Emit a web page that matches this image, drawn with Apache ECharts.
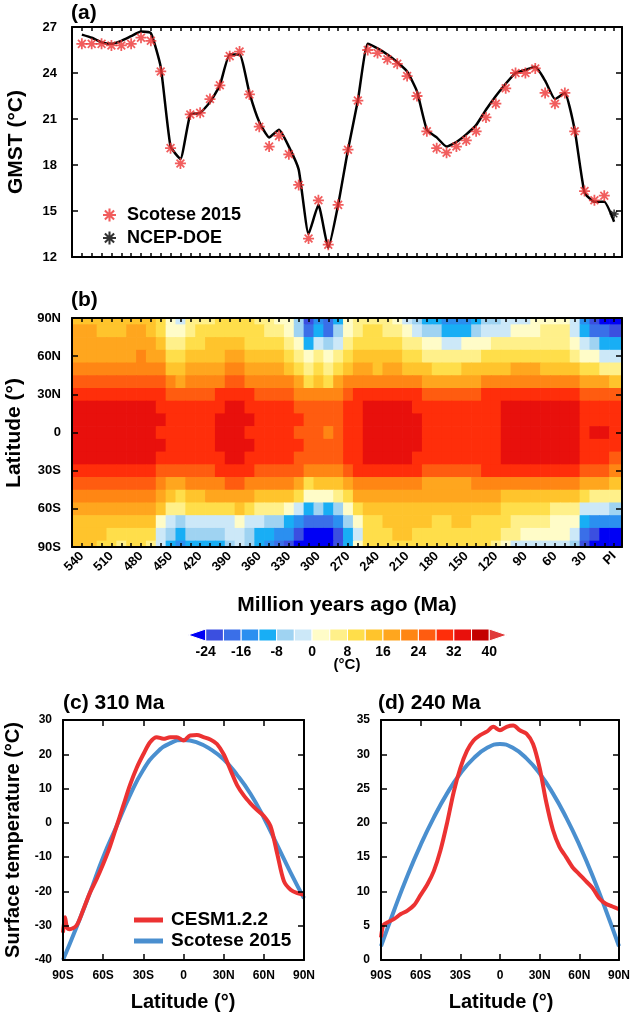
<!DOCTYPE html>
<html>
<head>
<meta charset="utf-8">
<title>GMST and zonal-mean surface temperature</title>
<script src="https://cdn.jsdelivr.net/npm/echarts@6/dist/echarts.min.js"></script>
<style>
  html, body { margin: 0; padding: 0; background: #fff; }
  #chart { width: 633px; height: 1012px; }
</style>
</head>
<body>
<div id="chart"></div>
<script>
// ---- panel (a): global mean surface temperature ----
const ages = [540, 530, 520, 510, 500, 490, 480, 470, 460, 450, 440, 430, 420, 410, 400, 390, 380, 370, 360, 350,
  340, 330, 320, 310, 300, 290, 280, 270, 260, 250, 240, 230, 220, 210, 200, 190, 180, 170, 160, 150,
  140, 130, 120, 110, 100, 90, 80, 70, 60, 50, 40, 30, 20, 10, 0];
const gmstCesm = [26.5, 26.3, 26.0, 25.9, 26.1, 26.4, 26.7, 26.6, 24.4, 19.2, 18.4, 21.3, 21.4, 22.1, 23.2, 25.2, 25.2, 22.7, 20.8, 19.8,
  20.3, 19.2, 17.7, 13.5, 15.4, 12.6, 15.4, 19.0, 22.2, 25.9, 25.6, 25.2, 24.7, 24.1, 22.8, 20.3, 19.8, 19.2, 19.5, 20.0,
  20.6, 21.6, 22.5, 23.3, 24.0, 24.2, 24.4, 23.5, 22.3, 22.7, 20.3, 16.2, 15.6, 15.6, 14.3];
// Scotese 2015 stars, 540 ... 10 Ma
const gmstScotese = [25.9, 25.9, 25.9, 25.8, 25.8, 25.9, 26.3, 26.1, 24.1, 19.1, 18.1, 21.3, 21.4, 22.3, 23.2, 25.1, 25.4, 22.6, 20.5, 19.2,
  19.9, 18.7, 16.7, 13.2, 15.7, 12.8, 15.4, 19.0, 22.2, 25.5, 25.3, 24.9, 24.6, 23.8, 22.5, 20.2, 19.1, 18.8, 19.2, 19.6,
  20.2, 21.1, 22.0, 23.0, 24.0, 24.0, 24.3, 22.7, 22.0, 22.7, 20.2, 16.3, 15.7, 16.0];
const ncepAge = [0];
const ncepGmst = [14.8];
const ageLabels = [540, 510, 480, 450, 420, 390, 360, 330, 300, 270, 240, 210, 180, 150, 120, 90, 60, 30, 0];

// ---- panel (b): zonal mean temperature, rows 90N -> 90S, columns 540 -> 0 Ma ----
const gridLats = [90, 80, 70, 60, 50, 40, 30, 20, 10, 0, -10, -20, -30, -40, -50, -60, -70, -80, -90];
const zonalTemp = [
  [15,15,14,14,14, 15,15,13,8,0, -1,4,6,7,8, 10,10,8,6,5, 3,0,-8,-21,-14, -20,-10,0,4,7, 7.5,5,3,-1,-5, -9,-12,-14,-14,-13, -10,-7,-5,-4,-3, -2,0,2,3,3, -3,-14,-22,-25,-27],
  [16,16,15,15,15, 16,16,14,10,3, 2,6,8,9,10, 11,11,9,8,7, 5,2,-5,-19,-10, -17,-7,2,6,8, 8.5,7,5,2,-1, -5,-8,-10,-10,-9, -7,-4,-2,-1,0, 1,2,4,4,4, -1,-10,-17,-20,-22],
  [17,17,17,17,17, 17,18,16,13,7, 6,9,11,12,12, 13,13,11,10,9, 8,6,1,-9,-3, -8,-1,6,10,11, 10.5,10,9,7,5, 2,0,-1,-1,0, 1,3,4,5,6, 6,7,7,6,7, 3,-4,-8,-10,-12],
  [19,19,19,19,19, 19,20,19,16,11, 10,13,14,14,15, 16,16,14,13,12, 12,10,6,2,5, 1,6,11,14,14, 12.5,13,12,11,9, 7,5,5,5,6, 7,8,9,10,11, 11,11,10,9,10, 7,2,0,-1,-2],
  [21,21,21,21,21, 21,22,22,20,15, 14,17,18,18,19, 20,20,18,17,16, 16,14,11,6,9, 6,11,15,18,17, 15.5,16,16,15,14, 12,11,11,11,12, 13,14,14,15,16, 16,16,15,14,14, 13,9,8,7,7],
  [24,24,24,24,24, 24,25,25,24,20, 19,22,22,22,23, 24,24,23,22,21, 21,20,17,11,14, 11,16,20,23,22, 20,20,21,20,20, 18,17,17,17,18, 19,20,20,21,22, 22,22,21,20,20, 20,17,16,16,15],
  [28.5,28.5,28.5,28.5,28.5, 28.5,29,29,28.5,25, 24,27,27,27,28, 29,29,28,27,26, 26,25,23,20,22, 20,23,26,28,29, 28.2,28.5,28.5,28.5,28, 27,26,26,26,27, 27,28,28,28.5,28.5, 28.5,29,28.5,28,28, 28,27,26,25,24],
  [32,32,32,32,32, 32,32,32,31,29, 28.5,30,30,30,31, 32,32,31,30,29, 29,28.5,27,24.5,26, 24.5,26,29,31,33, 33,33,32.5,32,31.5, 30,29,29,29,30, 30,30.5,31,32,32, 32,32,32,32,32, 32,30,29.5,29,28.5],
  [33.5,33.5,33.5,33.5,33.5, 33.5,34,33.5,32,30, 30,31,31,31.5,32, 33,33,32,31,30, 31,30,28,25.5,27, 25,27,30,31.5,34, 34.2,34,33.5,33,32.5, 31,30.5,30.5,31,31, 31,31.5,31.5,33,33, 33,33,33,33,33, 33,31,30.5,30.5,29.5],
  [34,34,34,34,34, 34,34,34,31.5,29, 29,31,31,31.5,32, 33,33,31.5,31,30, 30,29,27.5,24.5,26, 23.5,26,29,31.5,34, 33.5,34,33,33,32.5, 31,30.5,30,30.5,31, 31,31.5,31.5,33,33, 33,33,33,33,33, 32.5,31,32,32,30],
  [34,34,34,34,34, 34,34,34,32,30, 30,31,31,31.5,32, 33,33,32,31,30, 31,30,28,25,27, 25,27,30,31.5,34, 33.5,34,33,33,32.5, 31,30.5,30.5,31,31, 31,31.5,31.5,33,33, 33,33,33,33,33, 32.5,31,31,31,29.5],
  [32,32,32,32,32, 32,32,32,30,29, 28.5,30,30,30,31, 32,32,31,30,29, 30,29,27,25,26, 24.5,26,29,31,33, 32,32,32,32,31.5, 30,29,29,29,30, 30,30.5,31,32,32, 32,32,32,32,32, 32,29,29,28,27],
  [28.5,28.5,28.5,28.5,28.5, 28.5,29,28.5,27,25, 24,26,26,27,28, 29,29,28,27,26, 27,26,24,20,22, 20,22,26,28,30, 28,28.5,28.5,28.5,28, 27,26,26,26,27, 27,28,28,28.5,28.5, 28.5,28.5,28,28,28, 28,25,24,24,23],
  [24,24,24,24,24, 24,25,24,22,19, 18,21,21,22,23, 24,24,23,22,21, 21,20,18,11,14, 12,15,19,23,22, 20,20,21,21,21, 19,19,18,19,19, 20,21,22,22,22, 22,22,21,20,20, 20,17,16,16,15],
  [21,21,21,20,20, 20,21,20,17,12, 11,14,15,16,17, 18,18,16,14,13, 13,12,9,0,3, 1,5,11,16,17, 16,17,18,18,17, 16,16,16,16,16, 16,16,16,15,15, 15,15,14,13,13, 12,8,7,7,6],
  [18,18,17,17,17, 17,17,16,12,5, 4,8,8,9,10, 11,12,9,6,4, 4,2,-2,-12,-8, -11,-6,2,8,13, 13,14,15,15,14, 14,13,13,14,14, 13,13,12,11,10, 9,9,8,7,7, 5,-2,-3,-4,-5],
  [15,15,14,13,13, 14,14,12,2,-3, -5,-2,-3,-2,-2, -1,1,-3,-4,-6, -7,-9,-13,-20,-17, -20,-14,-6,2,11, 11,12,13,13,12, 12,11,11,12,12, 11,11,10,8,7, 7,6,4,3,3, 1,-10,-14,-15,-16],
  [13,13,12,10,10, 10,11,8,-3,-8, -10,-7,-8,-7,-6, -4,-1,-6,-9,-11, -13,-16,-21,-30,-26, -28,-21,-10,-1,10, 10,11,12,12,11, 11,10,10,11,11, 10,9,8,5,4, 3,2,1,0,0, -3,-18,-24,-26,-27],
  [12,12,11,8,7, 8,10,5,-4,-11, -13,-10,-11,-10,-9, -6,-3,-8,-12,-15, -18,-22,-26,-32,-29, -31,-23,-12,2,8, 9,10,11,11,10, 10,9,9,10,10, 9,8,6,0,-2, -3,-3,-4,-4,-4, -8,-22,-28,-30,-32]
];
const latTicks = [-90, -60, -30, 0, 30, 60, 90];
const latLabels = ['90S', '60S', '30S', '0', '30N', '60N', '90N'];

// ---- colour scale ----
const levels = [-24, -20, -16, -12, -8, -4, 0, 4, 8, 12, 16, 20, 24, 28, 32, 36, 40];
const binColors = ['#0000f5', '#3b4fe0', '#3a6fe8', '#2b8ff0', '#18aef5', '#9fd3f2', '#cce8f8', '#fffcc8', '#fff08a',
  '#ffde4a', '#ffc42c', '#ffa61e', '#ff8614', '#ff5c10', '#ff2e0a', '#e8100c', '#c40000', '#e03a3a'];
const barLabels = [-24, -16, -8, 0, 8, 16, 24, 32, 40];

// ---- panels (c) and (d): zonal profiles ----
const profileLats = [-90, -88.5, -87, -85, -80, -75, -70, -65, -60, -55, -50, -45, -40, -35, -30, -25, -20, -15, -10, -5,
  0, 5, 10, 15, 20, 25, 30, 35, 40, 45, 50, 55, 60, 65, 70, 75, 80, 85, 90];
const cesm310 = [-32, -27.5, -30.5, -31, -30, -25.5, -20.5, -16.5, -12, -7, -1, 5, 11, 16, 20, 23.5, 25, 24.5, 25, 25,
  24, 25.5, 25.6, 25, 24.3, 23, 20, 15.5, 11, 8, 5.7, 3.7, 2, -1, -9, -17, -19.5, -20.5, -21];
const cesm240 = [3.3, 5, 5.3, 5.5, 6, 6.7, 7.2, 8, 9.5, 11, 13, 16, 20, 24.5, 28, 30.5, 32, 32.8, 33.3, 34,
  33.5, 34, 34.2, 33.5, 33, 31.5, 28, 23, 19, 16.5, 15, 13.5, 12.5, 11.5, 10.5, 9, 8.2, 7.8, 7.4];
const scoteseLats = [-90, -80, -70, -60, -50, -40, -30, -20, -10, 0, 10, 20, 30, 40, 50, 60, 70, 80, 90];
const scotese310 = [-40, -30.5, -20.5, -10, -1, 8, 15.5, 20.5, 23.2, 24.2, 23.5, 21.5, 18.5, 14, 8.5, 1.5, -6.5, -14.5, -22];
const scotese240 = [2, 7.3, 12.3, 16.8, 20.8, 24.3, 27.2, 29.4, 30.9, 31.5, 30.9, 29.4, 27.2, 24.3, 20.8, 16.8, 12.3, 7.3, 2];

// ---- layout helpers ----
const AGE_MIN = -8, AGE_MAX = 550;
const FONT = '"Liberation Sans", Arial, Helvetica, sans-serif';
const minorAges = [];
for (let a = 0; a <= 540; a += 10) minorAges.push(a);
const starPath = 'path://M-1.6,-10L1.6,-10L1.6,10L-1.6,10Z M-10,-1.6L10,-1.6L10,1.6L-10,1.6Z ' +
  'M-5.94,-8.2L8.2,5.94L5.94,8.2L-8.2,-5.94Z M-8.2,5.94L5.94,-8.2L8.2,-5.94L-5.94,8.2Z';

const boxLine = { show: true, onZero: false, lineStyle: { color: '#000', width: 2 } };
const latFmt = v => latLabels[latTicks.indexOf(v)];

function timeAxis(gridIndex, position, withLabels) {
  return {
    type: 'value', gridIndex, position, min: AGE_MIN, max: AGE_MAX, inverse: true, z: 5,
    axisLine: boxLine,
    axisTick: { show: true, inside: true, length: 4, customValues: minorAges, lineStyle: { color: '#000', width: 1.5 } },
    axisLabel: withLabels ? {
      show: true, customValues: ageLabels, rotate: 45, margin: 7,
      formatter: v => (v === 0 ? 'PI' : String(v)),
      fontSize: 13, fontWeight: 'bold', color: '#000'
    } : { show: false },
    splitLine: { show: false }
  };
}
function valueAxis(gridIndex, position, min, max, interval, withLabels, fmt, fontSize, margin) {
  return {
    type: 'value', gridIndex, position, min, max, interval, z: 5,
    axisLine: boxLine,
    axisTick: { show: true, inside: true, length: 6, lineStyle: { color: '#000', width: 1.5 } },
    axisLabel: withLabels ? { show: true, fontSize, fontWeight: 'bold', color: '#000', margin, formatter: fmt } : { show: false },
    splitLine: { show: false }
  };
}

const cells = [];
gridLats.forEach((lat, r) => ages.forEach((t, c) => cells.push([t, lat, zonalTemp[r][c]])));

const pieces = [{ lt: levels[0], color: binColors[0] }];
for (let i = 0; i < levels.length - 1; i++) pieces.push({ gte: levels[i], lt: levels[i + 1], color: binColors[i + 1] });
pieces.push({ gte: levels[levels.length - 1], color: binColors[binColors.length - 1] });

const barBins = [];
for (let i = 0; i <= levels.length; i++) {
  const lo = i === 0 ? levels[0] - 4 : levels[i - 1];
  const hi = i === levels.length ? levels[levels.length - 1] + 4 : levels[i];
  barBins.push([lo, hi, i]);
}

function renderCell(params, api) {
  const t = api.value(0), lat = api.value(1);
  const tHi = t === ages[0] ? AGE_MAX : t + 5;
  const tLo = t === ages[ages.length - 1] ? AGE_MIN : t - 5;
  const p1 = api.coord([tHi, lat + 5]);
  const p2 = api.coord([tLo, lat - 5]);
  const cs = params.coordSys;
  const shape = echarts.graphic.clipRectByRect(
    { x: Math.min(p1[0], p2[0]), y: Math.min(p1[1], p2[1]),
      width: Math.abs(p2[0] - p1[0]) + 0.7, height: Math.abs(p2[1] - p1[1]) + 0.7 },
    { x: cs.x, y: cs.y, width: cs.width, height: cs.height });
  return shape && { type: 'rect', shape, style: { fill: api.visual('color') } };
}

function renderBarBin(params, api) {
  const lo = api.value(0), hi = api.value(1), idx = api.value(2);
  const a = api.coord([lo, 1]), b = api.coord([hi, 0]);
  const mid = (a[1] + b[1]) / 2;
  let points;
  if (idx === 0) points = [[b[0], a[1]], [b[0], b[1]], [a[0], mid]];
  else if (idx === levels.length) points = [[a[0], a[1]], [a[0], b[1]], [b[0], mid]];
  else points = [[a[0], a[1]], [b[0], a[1]], [b[0], b[1]], [a[0], b[1]]];
  return { type: 'polygon', shape: { points }, style: { fill: binColors[idx], stroke: '#fff', lineWidth: 1 } };
}

const titleFont = { fontSize: 21, fontWeight: 'bold', fontFamily: FONT, fill: '#000' };
function label(text, x, y, opts) {
  return Object.assign({
    type: 'text', x, y,
    style: Object.assign({ text, align: 'left', verticalAlign: 'middle' }, titleFont, (opts && opts.style) || {})
  }, opts && opts.rotation ? { rotation: opts.rotation } : {});
}

const option = {
  backgroundColor: '#fff',
  animation: false,
  textStyle: { fontFamily: FONT },
  grid: [
    { left: 72, top: 27, width: 550, height: 230 },
    { left: 72, top: 318, width: 550, height: 229 },
    { left: 188, top: 629, width: 319, height: 12 },
    { left: 63, top: 720, width: 241, height: 240 },
    { left: 381, top: 720, width: 240, height: 240 }
  ],
  xAxis: [
    timeAxis(0, 'bottom', false),
    timeAxis(0, 'top', false),
    timeAxis(1, 'bottom', true),
    timeAxis(1, 'top', false),
    {
      type: 'value', gridIndex: 2, min: -28, max: 44, position: 'bottom',
      axisLine: { show: false }, axisTick: { show: false }, splitLine: { show: false },
      axisLabel: { customValues: barLabels, fontSize: 14, fontWeight: 'bold', color: '#000', margin: 4 }
    },
    valueAxis(3, 'bottom', -90, 90, 30, true, latFmt, 12, 10),
    valueAxis(3, 'top', -90, 90, 30, false),
    valueAxis(4, 'bottom', -90, 90, 30, true, latFmt, 12, 10),
    valueAxis(4, 'top', -90, 90, 30, false)
  ],
  yAxis: [
    valueAxis(0, 'left', 12, 27, 3, true, null, 13, 15),
    valueAxis(0, 'right', 12, 27, 3, false),
    valueAxis(1, 'left', -90, 90, 30, true, latFmt, 13, 11),
    valueAxis(1, 'right', -90, 90, 30, false),
    { type: 'value', gridIndex: 2, min: 0, max: 1, show: false },
    valueAxis(3, 'left', -40, 30, 10, true, null, 12, 11),
    valueAxis(3, 'right', -40, 30, 10, false),
    valueAxis(4, 'left', 0, 35, 5, true, null, 12, 11),
    valueAxis(4, 'right', 0, 35, 5, false)
  ],
  visualMap: {
    type: 'piecewise', show: false, seriesIndex: 3, dimension: 2, pieces
  },
  legend: [
    {
      data: ['Scotese 2015 GMST', 'NCEP-DOE'], orient: 'vertical', left: 98, top: 200,
      itemWidth: 13, itemHeight: 13, itemGap: 3, selectedMode: false,
      formatter: n => n.replace(' GMST', ''),
      textStyle: { fontSize: 18, fontWeight: 'bold', color: '#000', lineHeight: 20, padding: [0, 0, 0, 6] }
    },
    {
      data: ['CESM1.2.2', 'Scotese 2015'], orient: 'vertical', left: 129, top: 905,
      itemWidth: 29, itemHeight: 5, itemGap: 1, icon: 'rect', selectedMode: false,
      textStyle: { fontSize: 19, fontWeight: 'bold', color: '#000', lineHeight: 20, padding: [0, 0, 0, 3] }
    }
  ],
  series: [
    {
      name: 'CESM GMST', type: 'line', xAxisIndex: 0, yAxisIndex: 0, z: 3,
      data: ages.map((t, i) => [t, gmstCesm[i]]),
      showSymbol: false, smooth: 0.15, lineStyle: { color: '#000', width: 2.5 }
    },
    {
      name: 'Scotese 2015 GMST', type: 'scatter', xAxisIndex: 0, yAxisIndex: 0, z: 4,
      data: gmstScotese.map((v, i) => [ages[i], v]),
      symbol: starPath, symbolSize: 11, itemStyle: { color: '#ee3535' }
    },
    {
      name: 'NCEP-DOE', type: 'scatter', xAxisIndex: 0, yAxisIndex: 0, z: 4,
      data: ncepAge.map((t, i) => [t, ncepGmst[i]]),
      symbol: starPath, symbolSize: 9, itemStyle: { color: '#000' }
    },
    {
      name: 'zonal T', type: 'custom', xAxisIndex: 2, yAxisIndex: 2, z: 1,
      renderItem: renderCell, data: cells, encode: { x: 0, y: 1 }
    },
    {
      name: 'colour bar', type: 'custom', xAxisIndex: 4, yAxisIndex: 4,
      renderItem: renderBarBin, data: barBins, encode: { x: [0, 1] }
    },
    {
      name: 'Scotese 2015', type: 'line', xAxisIndex: 5, yAxisIndex: 5, smooth: true, showSymbol: false,
      data: scoteseLats.map((l, i) => [l, scotese310[i]]), lineStyle: { color: '#4a8fcf', width: 4 }, itemStyle: { color: '#4a8fcf' }
    },
    {
      name: 'CESM1.2.2', type: 'line', xAxisIndex: 5, yAxisIndex: 5, smooth: 0.3, showSymbol: false,
      data: profileLats.map((l, i) => [l, cesm310[i]]), lineStyle: { color: '#ec3232', width: 4 }, itemStyle: { color: '#ec3232' }
    },
    {
      name: 'Scotese 2015', type: 'line', xAxisIndex: 7, yAxisIndex: 7, smooth: true, showSymbol: false,
      data: scoteseLats.map((l, i) => [l, scotese240[i]]), lineStyle: { color: '#4a8fcf', width: 4 }, itemStyle: { color: '#4a8fcf' }
    },
    {
      name: 'CESM1.2.2', type: 'line', xAxisIndex: 7, yAxisIndex: 7, smooth: 0.3, showSymbol: false,
      data: profileLats.map((l, i) => [l, cesm240[i]]), lineStyle: { color: '#ec3232', width: 4 }, itemStyle: { color: '#ec3232' }
    }
  ],
  graphic: [
    label('(a)', 71, 13),
    label('(b)', 71, 300),
    label('GMST (°C)', 16, 142, { rotation: Math.PI / 2, style: { align: 'center' } }),
    label('Latitude (°)', 14, 433, { rotation: Math.PI / 2, style: { align: 'center' } }),
    label('Million years ago (Ma)', 347, 605, { style: { align: 'center' } }),
    label('(°C)', 347, 665, { style: { align: 'center', fontSize: 15 } }),
    label('(c) 310 Ma', 63, 703),
    label('(d) 240 Ma', 378, 703),
    label('Surface temperature (°C)', 13, 840, { rotation: Math.PI / 2, style: { align: 'center', fontSize: 20 } }),
    label('Latitude (°)', 183, 1002, { style: { align: 'center', fontSize: 20 } }),
    label('Latitude (°)', 501, 1002, { style: { align: 'center', fontSize: 20 } })
  ]
};

const chart = echarts.init(document.getElementById('chart'));
chart.setOption(option);
</script>
</body>
</html>
